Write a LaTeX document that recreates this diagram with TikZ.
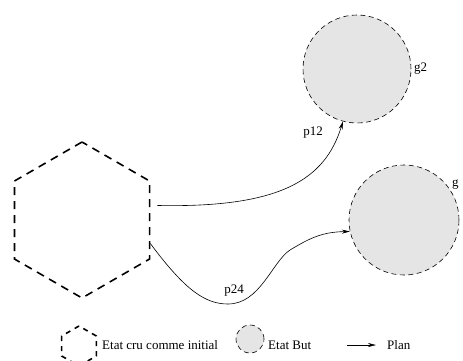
\documentclass[tikz,border=0pt]{standalone}
\usepackage{fontspec}
\setmainfont{Liberation Serif}
\usetikzlibrary{shapes.geometric,arrows.meta}
\definecolor{goalgray}{HTML}{E5E5E5}
\tikzset{
  hexstate/.style={regular polygon, regular polygon sides=6, shape border rotate=30,
    draw, line width=1.6pt, dash pattern=on 8pt off 6pt, inner sep=0pt},
  goalstate/.style={circle, draw, fill=goalgray, line width=0.6pt, dash pattern=on 5pt off 3.5pt, inner sep=0pt},
  plan/.style={line width=0.6pt, -{Stealth[length=8pt,width=4pt,inset=2.5pt]}},
  lbl/.style={font=\fontsize{13}{15}\selectfont, inner sep=0pt},
}
\begin{document}
\begin{tikzpicture}[x=1pt,y=-1pt]
\clip (0,0) rectangle (463,360);
\useasboundingbox (0,0) rectangle (463,360);
\node[hexstate, minimum size=156pt] (init) at (82,220) {};
\node[goalstate, minimum size=108pt] (g2) at (357,69) {};
\node[goalstate, minimum size=110pt] (g) at (404,220) {};
\node[lbl, anchor=west] (g2l) at (414,69) {g2};
\node[lbl, anchor=west] (gl) at (452,185) {g};
% p12
\coordinate (s12) at ([xshift=7pt]init.12);
\draw[plan] (s12) .. controls (280,208) and (325,180) .. (g2.-105);
\node[lbl] (p12) at (313,133) {p12};
% p24
\coordinate (m1) at (228,304);
\coordinate (m2) at (290,250);
\draw[plan] (init.-19) .. controls (185,290) and (205,304) .. (m1)
  .. controls (260,304) and (272,262) .. (m2)
  .. controls (310,238) and (322,232) .. (g.192);
\node[lbl] (p24) at (234,291) {p24};
% legend
\node[hexstate, minimum size=40pt, line width=1.6pt, dash pattern=on 5pt off 5pt] (lhex) at (79,346) {};
\node[lbl, anchor=west] (lhext) at (102,345) {Etat cru comme initial};
\node[goalstate, minimum size=28pt] (lcirc) at (250,339) {};
\node[lbl, anchor=west] (lcirct) at (268,345) {Etat But};
\coordinate (la) at (347,345);
\coordinate (lb) at (376,345);
\draw[plan] (la) -- (lb);
\node[lbl, anchor=west] (lplan) at (387,345) {Plan};
\end{tikzpicture}
\end{document}
